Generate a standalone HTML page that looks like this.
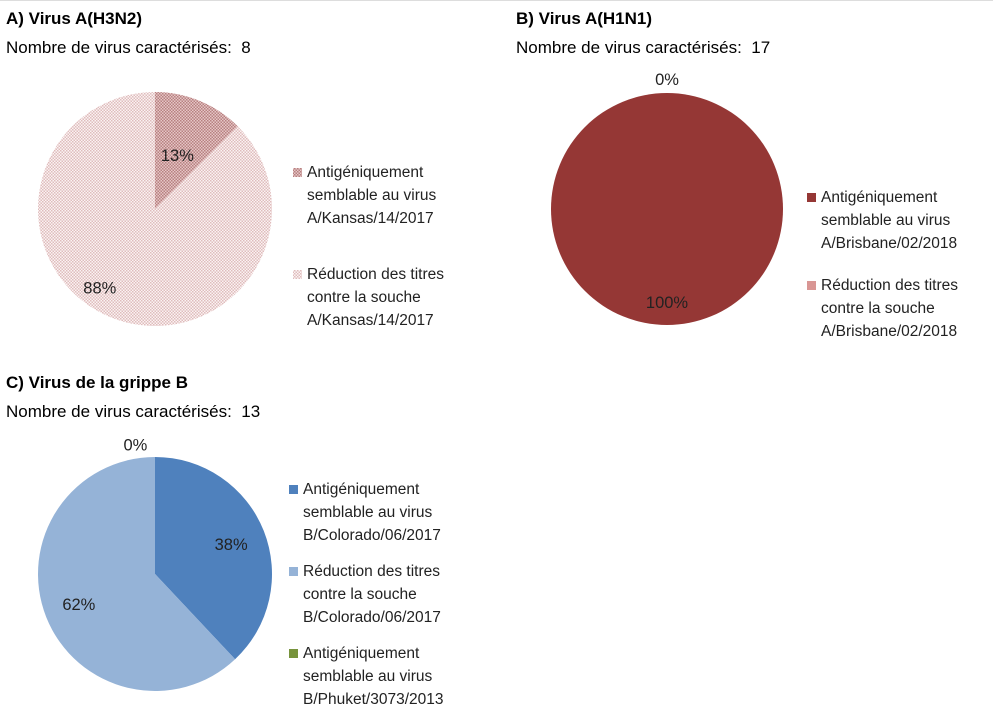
<!DOCTYPE html>
<html><head><meta charset="utf-8"><style>
body{margin:0;background:#fff;}
svg{display:block;font-family:"Liberation Sans",Arial,sans-serif;}
.t{font-weight:bold;font-size:17px;fill:#000}
.s{font-size:17px;fill:#000;white-space:pre}
.l{font-size:15.5px;fill:#222}
.p{font-size:16.5px;fill:#222;text-anchor:middle}
</style></head><body>
<svg id="c" width="993" height="727" viewBox="0 0 993 727">
<defs>
<pattern id="pa" width="3" height="3" patternUnits="userSpaceOnUse"><rect width="3" height="3" fill="#e6c6c6"/><rect width="1.5" height="1.5" fill="#b78080"/><rect x="1.5" y="1.5" width="1.5" height="1.5" fill="#b78080"/></pattern>
<pattern id="pb" width="3" height="3" patternUnits="userSpaceOnUse"><rect width="3" height="3" fill="#fbf3f3"/><rect width="1.5" height="1.5" fill="#dfbcbc"/><rect x="1.5" y="1.5" width="1.5" height="1.5" fill="#dfbcbc"/></pattern>
</defs>
<rect x="0" y="0" width="993" height="1" fill="#ddd"/>
<text class="t" x="6" y="24">A) Virus A(H3N2)</text>
<text class="s" x="6" y="53">Nombre de virus caractérisés:&#160; 8</text>
<text class="t" x="516" y="24">B) Virus A(H1N1)</text>
<text class="s" x="516" y="53">Nombre de virus caractérisés:&#160; 17</text>
<text class="t" x="6" y="388">C) Virus de la grippe B</text>
<text class="s" x="6" y="417">Nombre de virus caractérisés:&#160; 13</text>
</svg>
<script>
const aValues=[12.5,87.5];
const aLabels=["13%","88%"];
const bValues=[100,0];
const bLabels=["100%","0%"];
const cValues=[38,62,0];
const cLabels=["38%","62%","0%"];
const aLegend=[["Antigéniquement","semblable au virus","A/Kansas/14/2017"],["Réduction des titres","contre la souche","A/Kansas/14/2017"]];
const bLegend=[["Antigéniquement","semblable au virus","A/Brisbane/02/2018"],["Réduction des titres","contre la souche","A/Brisbane/02/2018"]];
const cLegend=[["Antigéniquement","semblable au virus","B/Colorado/06/2017"],["Réduction des titres","contre la souche","B/Colorado/06/2017"],["Antigéniquement","semblable au virus","B/Phuket/3073/2013"]];
const svg=document.getElementById('c');
const NS='http://www.w3.org/2000/svg';
function mk(t,a){const e=document.createElementNS(NS,t);for(const k in a)e.setAttribute(k,a[k]);svg.appendChild(e);return e;}
function pie(id,cx,cy,r,vals,labels,fills,labelPos,labelRot,legend,lx,ly,gap){
  const tot=vals.reduce((s,v)=>s+v,0);let a0=0;
  vals.forEach((v,i)=>{
    const a1=a0+v/tot*2*Math.PI;let el;
    if(v/tot>=0.9999){el=mk('circle',{cx:cx,cy:cy,r:r,fill:fills[i]});}
    else if(v>0){
      const x0=cx+r*Math.sin(a0),y0=cy-r*Math.cos(a0),x1=cx+r*Math.sin(a1),y1=cy-r*Math.cos(a1);
      el=mk('path',{d:`M${cx},${cy}L${x0},${y0}A${r},${r} 0 ${a1-a0>Math.PI?1:0} 1 ${x1},${y1}Z`,fill:fills[i]});
    }
    if(el){
    }
    const mid=(a0+a1)/2+labelRot[i];const f=labelPos[i];
    const t=mk('text',{class:'p',x:cx+r*f*Math.sin(mid),y:cy-r*f*Math.cos(mid)+6});
    t.textContent=labels[i];
    
    
    a0=a1;
  });
  legend.forEach((lines,i)=>{
    const y=ly+i*gap;
    const m=mk('rect',{x:lx,y:y-9,width:9,height:9,fill:fills[i]});
    
    
    lines.forEach((s,j)=>{const t=mk('text',{class:'l',x:lx+14,y:y+j*23});t.textContent=s;
      
      });
  });
}
pie('pie-a',155,209,117,aValues,aLabels,['url(#pa)','url(#pb)'],[0.5,0.82],[0,0.22],aLegend,293,177,102);
pie('pie-b',667,209,116,bValues,bLabels,['#953735','#d99694'],[0.8,1.12],[0,0],bLegend,807,202,88);
pie('pie-c',155,574,117,cValues,cLabels,['#4f81bd','#95b3d7','#77933c'],[0.7,0.7,1.12],[0,0,-0.15],cLegend,289,494,82);
</script>
</body></html>
